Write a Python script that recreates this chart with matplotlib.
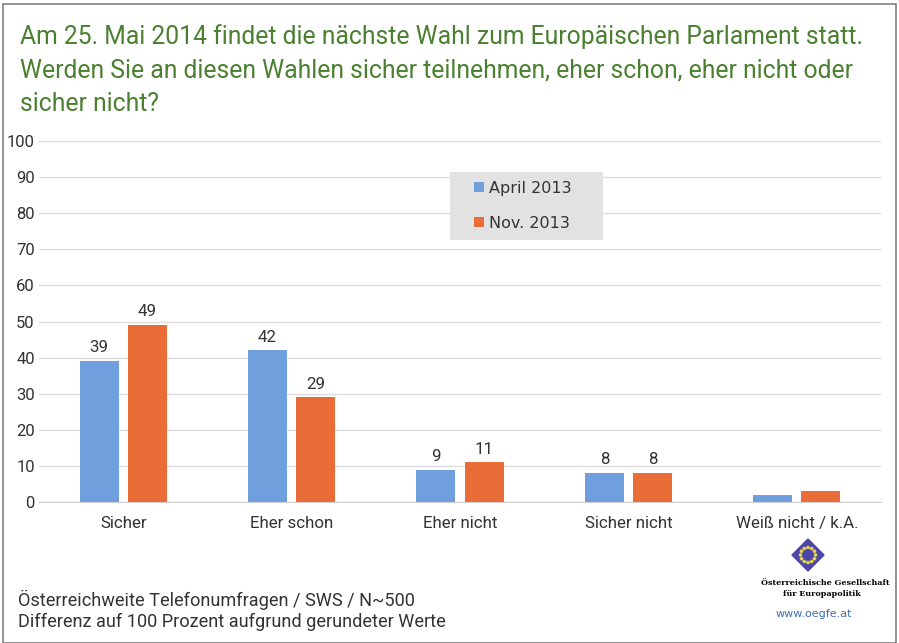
import matplotlib
matplotlib.use("Agg")
import matplotlib.pyplot as plt
from matplotlib.patches import Rectangle, Polygon, Circle
import numpy as np
import logging
logging.getLogger("matplotlib.font_manager").setLevel(logging.ERROR)

categories = ["Sicher", "Eher schon", "Eher nicht", "Sicher nicht", "Weiß nicht / k.A."]
april_2013 = [39, 42, 9, 8, 2]
nov_2013 = [49, 29, 11, 8, 3]
show_labels = [True, True, True, True, False]
series_names = ["April 2013", "Nov. 2013"]
yticks = list(range(0, 101, 10))

title = ("Am 25. Mai 2014 findet die nächste Wahl zum Europäischen Parlament statt.\n"
         "Werden Sie an diesen Wahlen sicher teilnehmen, eher schon, eher nicht oder\n"
         "sicher nicht?")
foot1 = "Österreichweite Telefonumfragen / SWS / N~500"
foot2 = "Differenz auf 100 Prozent aufgrund gerundeter Werte"

BLUE = "#6f9fdc"
ORANGE = "#ea6d37"
GREEN = "#4a8030"
FONT = ["Roboto", "DejaVu Sans"]

W, H = 899, 643
fig = plt.figure(figsize=(W / 100, H / 100), dpi=100)
fig.patch.set_facecolor("white")

# outer frame
fig.add_artist(Rectangle((3 / W, 0), (W - 6) / W, (H - 4) / H, transform=fig.transFigure,
                         fill=False, edgecolor="#808080", linewidth=1.2))

fig.text(20 / W, 1 - 24 / H, title, color=GREEN, fontsize=17.8, family=FONT,
         va="top", ha="left", linespacing=1.5)

# axes: x from 39 to 881 px, y=0 at 502 px, y=100 at 141 px
ax_left, ax_right = 39, 881
y0, y100 = 502, 141
ax = fig.add_axes([ax_left / W, 1 - y0 / H, (ax_right - ax_left) / W, (y0 - y100) / H])
ax.set_xlim(-0.5, len(categories) - 0.5)
ax.set_ylim(0, 100)
x = np.arange(len(categories))
bw = 0.232
off = 0.143
ax.bar(x - off, april_2013, bw, color=BLUE, label=series_names[0], zorder=3)
ax.bar(x + off, nov_2013, bw, color=ORANGE, label=series_names[1], zorder=3)
for i in range(len(categories)):
    if show_labels[i]:
        ax.text(x[i] - off, april_2013[i] + 1.6, str(april_2013[i]), ha="center", va="bottom",
                fontsize=12.2, family=FONT, color="#333333")
        ax.text(x[i] + off, nov_2013[i] + 1.6, str(nov_2013[i]), ha="center", va="bottom",
                fontsize=12.2, family=FONT, color="#333333")

ax.set_yticks(yticks)
ax.set_yticklabels([str(v) for v in yticks], family=FONT, fontsize=12, color="#333333")
ax.set_xticks(x)
ax.set_xticklabels(categories, family=FONT, fontsize=12.2, color="#333333")
ax.tick_params(axis="both", length=0, pad=3)
ax.tick_params(axis="x", pad=10)
ax.grid(axis="y", color="#dcdcdc", linewidth=1, zorder=0)
for s in ["top", "right", "left"]:
    ax.spines[s].set_visible(False)
ax.spines["bottom"].set_color("#d0d0d0")
ax.set_facecolor("none")

# legend background box (450..603 x, 172..240 y in pixels)
ax.add_patch(Rectangle((450 / W, 1 - 240 / H), 153 / W, 68 / H, transform=fig.transFigure,
                       facecolor="#e2e2e2", edgecolor="none", zorder=4, clip_on=False))
leg = ax.legend(loc="upper left",
                bbox_to_anchor=((474 - ax_left) / (ax_right - ax_left), (y0 - 181) / (y0 - y100)),
                frameon=False, handlelength=0.6, handleheight=0.6,
                handletextpad=0.35, labelspacing=1.25, borderpad=0.0, borderaxespad=0,
                prop={"family": "DejaVu Sans", "size": 11.5})
leg.set_zorder(5)
for t in leg.get_texts():
    t.set_color("#333333")

fig.text(18 / W, 1 - 600 / H, foot1, fontsize=13.1, family=FONT, va="center", color="#333333")
fig.text(18 / W, 1 - 622 / H, foot2, fontsize=13.1, family=FONT, va="center", color="#333333")

# logo
lax = fig.add_axes([760 / W, 1 - 643 / H, 139 / W, 110 / H])
lax.set_xlim(0, 139)
lax.set_ylim(110, 0)
lax.axis("off")
cx, cy = 48, 22
r = 16
lax.add_patch(Polygon([(cx, cy - r), (cx + r, cy), (cx, cy + r), (cx - r, cy)],
                      closed=True, color="#4b46a8"))
for a in np.linspace(0, 2 * np.pi, 12, endpoint=False):
    lax.add_patch(Circle((cx + 7.5 * np.cos(a), cy + 7.5 * np.sin(a)), 1.1, color="#e8d44a"))
lax.text(65, 50, "Österreichische Gesellschaft", fontsize=5.8, fontweight="bold",
         family="DejaVu Serif", ha="center", va="center", color="black")
lax.text(62, 61, "für Europapolitik", fontsize=5.8, fontweight="bold",
         family="DejaVu Serif", ha="center", va="center", color="black")
lax.text(54, 81, "www.oegfe.at", fontsize=8, family="DejaVu Sans", ha="center",
         va="center", color="#3a6fb5")

fig.savefig("out.png", dpi=100)
